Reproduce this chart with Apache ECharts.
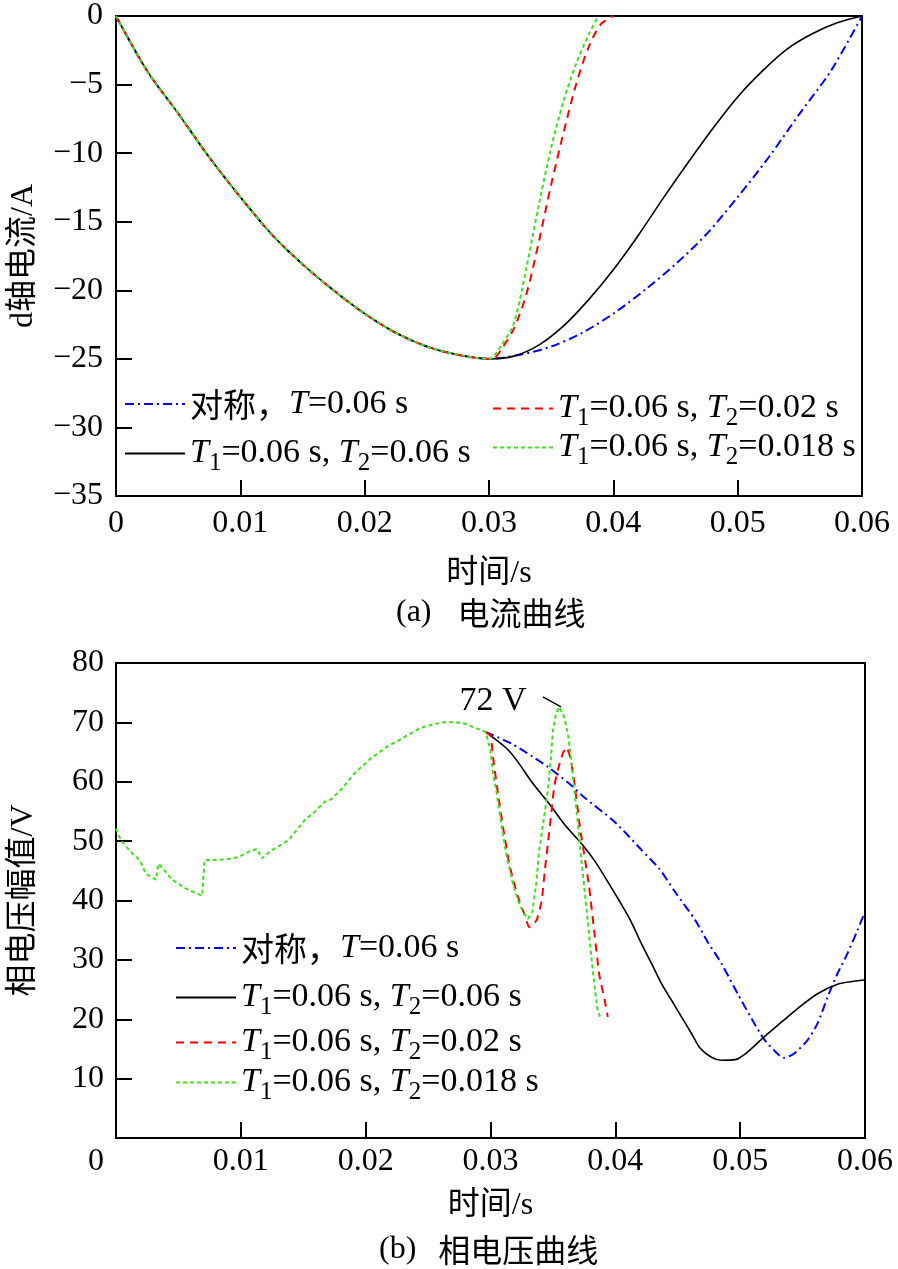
<!DOCTYPE html>
<html><head><meta charset="utf-8">
<script src="https://cdn.jsdelivr.net/npm/echarts@6/dist/echarts.min.js"></script>
<style>html,body{margin:0;padding:0;background:#fff}#c{width:898px;height:1269px}</style>
</head><body><div id="c"></div><script>
// ---------------- data ----------------
// (a) d-axis current, A
const curCommonT = [0,0.0025,0.005,0.0075,0.01,0.0125,0.015,0.0175,0.02,0.0225,0.025,0.0275,0.03];
const curCommonV = [0,-4.0,-7.1,-10.3,-13.2,-15.9,-18.1,-20.0,-21.7,-23.1,-24.1,-24.7,-25.0];
const curSymT = [0.0325,0.035,0.0375,0.04,0.0425,0.045,0.0475,0.05,0.0525,0.055,0.0575,0.06];
const curSymV = [-24.7,-24.1,-23.1,-21.7,-20.0,-18.1,-15.9,-13.2,-10.3,-7.1,-4.0,0];
const curA_T = [0.032,0.034,0.036,0.038,0.040,0.042,0.044,0.046,0.048,0.050,0.052,0.054,0.056,0.058,0.060];
const curA_V = [-24.8,-24.0,-22.6,-20.7,-18.5,-16.0,-13.3,-10.7,-8.2,-5.9,-4.0,-2.4,-1.3,-0.5,0];
const curB_T = [0.0305,0.031,0.032,0.033,0.034,0.035,0.036,0.037,0.038,0.039,0.040];
const curB_V = [-24.9,-24.3,-22.8,-20.3,-16.5,-12.3,-8.5,-5.0,-2.3,-0.6,0];
const curC_T = [0.031,0.032,0.033,0.034,0.035,0.036,0.037,0.038,0.0388];
const curC_V = [-24.0,-22.4,-18.4,-13.8,-9.6,-6.2,-3.5,-1.4,0];

// (b) phase voltage amplitude, V
const volCommonT = [0,0.0004,0.0013,0.0019,0.0024,0.0032,0.0034,0.0040,0.0045,0.0056,0.0069,0.0071,0.0088,0.0098,0.0106,0.0113,0.0117,0.0125,0.0138,0.0151,0.0159,0.0167,0.0172,0.0180,0.0191,0.0204,0.0217,0.0231,0.0244,0.0257,0.0265,0.0278,0.0296];
const volCommonV = [52.1,50.1,47.9,46.8,44.5,43.5,46.2,44.8,43.5,42.0,40.8,46.8,46.9,47.3,48.2,48.7,47.1,48.5,50.1,53.5,54.9,56.6,57.0,58.6,61.4,63.9,65.9,67.5,69.1,69.8,70.1,69.9,68.4];
const volSymT = [0.0296,0.0317,0.0334,0.0346,0.0363,0.0375,0.0398,0.0410,0.0421,0.0435,0.0448,0.0464,0.0474,0.0485,0.0498,0.0510,0.0519,0.0527,0.0535,0.0543,0.0554,0.0562,0.0570,0.0578,0.0586,0.0594,0.0600];
const volSymV = [68.4,66.4,64.2,62.5,59.7,57.4,53.5,51.0,48.5,45.4,41.4,36.7,33.0,29.4,24.3,19.8,16.7,14.8,13.5,14.2,16.5,19.3,23.7,27.7,31.1,35.0,38.1];
const volA_T = [0.0296,0.0313,0.0321,0.0334,0.0347,0.0359,0.0374,0.0384,0.0395,0.0403,0.0412,0.0421,0.0429,0.0437,0.0445,0.0453,0.0461,0.0468,0.0477,0.0485,0.0496,0.0506,0.0519,0.0533,0.0546,0.0562,0.0578,0.0591,0.0600];
const volA_V = [68.4,65.6,63.6,59.7,56.3,52.9,49.3,46.5,42.8,40.0,36.7,32.7,29.4,26.0,23.2,20.4,17.6,15.1,13.6,13.1,13.2,14.5,17.0,19.5,21.8,24.3,25.9,26.4,26.6];
const volB_T = [0.0296,0.0300,0.0302,0.0306,0.0310,0.0315,0.0319,0.0323,0.0327,0.0331,0.0337,0.0341,0.0344,0.0346,0.0349,0.0351,0.0354,0.0358,0.0361,0.0364,0.0367,0.0372,0.0375,0.0379,0.0383,0.0387,0.0391,0.0394];
const volB_V = [68.4,67.8,64.2,58.0,52.4,46.2,42.8,40.0,37.8,35.5,36.7,40.0,46.0,49.6,55.2,59.1,62.0,64.8,65.8,64.0,60.2,51.8,47.9,42.3,35.0,27.7,23.7,20.4];
const volC_T = [0.0300,0.0302,0.0305,0.0309,0.0313,0.0318,0.0322,0.0326,0.0330,0.03335,0.03366,0.0339,0.0343,0.0346,0.03485,0.0350,0.03525,0.0355,0.0359,0.0362,0.03644,0.0366,0.0368,0.0370,0.0372,0.0375,0.0378,0.0381,0.0384,0.03856,0.0388];
const volC_V = [65.3,61.4,58.0,52.4,47.3,42.8,40.0,38.1,36.9,38.1,42.8,48.4,54.1,58.6,64.2,68.7,71.5,72.6,70.9,68.1,64.2,60.8,56.9,52.9,48.5,42.5,36.5,30.0,24.5,21.8,20.2];

const xTicks = [0,0.01,0.02,0.03,0.04,0.05,0.06];
const annotText = '72 V';
const annotLabelAt = [0.0302, 73.6];
const annotLeader = [[0.0342, 74.3], [0.03565, 72.6]];

const legendText = {
  sym: '{cn|对称，}{it|T}=0.06 s',
  a: '{it|T}{sub|1}=0.06 s, {it|T}{sub|2}=0.06 s',
  b: '{it|T}{sub|1}=0.06 s, {it|T}{sub|2}=0.02 s',
  c: '{it|T}{sub|1}=0.06 s, {it|T}{sub|2}=0.018 s'
};

// ---------------- styling ----------------
const SERIF = '"Liberation Serif", "Times New Roman", "Noto Sans CJK SC", serif';
const CJK = '"Noto Sans CJK SC", sans-serif';
const FS = 32;
const LFS = 34;
const styles = {
  sym: {color: '#0000ff', type: [9, 4, 2, 4], width: 2},
  a:   {color: '#000000', type: 'solid', width: 1.6},
  b:   {color: '#ff0000', type: [8, 6], width: 2},
  c:   {color: '#40e020', type: [4, 3], width: 2}
};
const zip = (t, v) => t.map((x, i) => [x, v[i]]);
const minusFmt = v => (v < 0 ? '\u2212' + (-v) : String(v));
const xFmt = v => (Math.abs(v) < 1e-9 ? '0' : v.toFixed(2));

const richText = {
  it: {fontFamily: SERIF, fontStyle: 'italic', fontSize: LFS, lineHeight: 36, color: '#000'},
  sub: {fontFamily: SERIF, fontSize: 25, lineHeight: 16, padding: [20, 0, 0, 0], color: '#000'},
  cn: {fontFamily: CJK, fontSize: 33, lineHeight: 36, color: '#000'}
};

function legendItem(name, prefix, left, center) {
  return {
    data: [prefix + name], left: left, top: center - 18, padding: 0,
    itemWidth: 60, itemHeight: 20, selectedMode: false,
    itemStyle: {opacity: 0, borderWidth: 0},
    formatter: n => legendText[n.slice(prefix.length)],
    textStyle: {fontFamily: SERIF, fontSize: LFS, color: '#000', lineHeight: 36, rich: richText}
  };
}

function mkSeries(prefix, key, data, axisIdx, smooth) {
  const s = styles[key];
  return {
    name: prefix + key, type: 'line', xAxisIndex: axisIdx, yAxisIndex: axisIdx,
    data: data, symbol: 'none', smooth: smooth, animation: false,
    lineStyle: {color: s.color, type: s.type, width: s.width},
    itemStyle: {color: s.color}
  };
}

const axisCommon = {
  axisLine: {show: true, onZero: false, lineStyle: {color: '#000', width: 2}},
  axisTick: {show: true, inside: true, length: 16, lineStyle: {color: '#000', width: 2}},
  splitLine: {show: false}
};
const capRich = (gap) => ({
  p: {fontFamily: SERIF, fontSize: FS, fontWeight: 'normal', color: '#000'},
  c: {fontFamily: CJK, fontSize: 32, fontWeight: 'normal', color: '#000', padding: [0, 0, 0, gap]}
});

const curCommon = zip(curCommonT, curCommonV);
const option = {
  animation: false,
  backgroundColor: '#fff',
  title: [
    {text: '{p|(a)}{c|电流曲线}', left: 396, top: 597, padding: 0,
     textStyle: {fontWeight: 'normal', rich: capRich(26)}},
    {text: '{p|(b)}{c|相电压曲线}', left: 379, top: 1234, padding: 0,
     textStyle: {fontWeight: 'normal', rich: capRich(22)}}
  ],
  grid: [
    {left: 110, top: 10, width: 752, height: 486, show: true, borderColor: '#000', borderWidth: 2, containLabel: false},
    {left: 110, top: 663, width: 755, height: 475, show: true, borderColor: '#000', borderWidth: 2, containLabel: false}
  ],
  legend: [
    legendItem('sym', 'I_', 124, 404),
    legendItem('a', 'I_', 124, 449),
    legendItem('b', 'I_', 492, 404),
    legendItem('c', 'I_', 492, 443),
    legendItem('sym', 'U_', 175, 948),
    legendItem('a', 'U_', 175, 993),
    legendItem('b', 'U_', 175, 1038),
    legendItem('c', 'U_', 175, 1078)
  ],
  xAxis: [
    Object.assign({}, axisCommon, {
      gridIndex: 0, type: 'value', min: 0, max: 0.06, interval: 0.01,
      name: '时间/s', nameLocation: 'middle', nameGap: 62,
      nameTextStyle: {fontFamily: SERIF, fontSize: FS, color: '#000'},
      axisLabel: {fontFamily: SERIF, fontSize: FS, color: '#000', margin: 12, formatter: xFmt}
    }),
    Object.assign({}, axisCommon, {
      gridIndex: 1, type: 'value', min: 0, max: 0.06, interval: 0.01,
      name: '时间/s', nameLocation: 'middle', nameGap: 52,
      nameTextStyle: {fontFamily: SERIF, fontSize: FS, color: '#000'},
      axisLabel: {fontFamily: SERIF, fontSize: FS, color: '#000', margin: 8,
        formatter: v => (Math.abs(v) < 1e-9 ? '{z|0}' : v.toFixed(2)),
        rich: {z: {fontFamily: SERIF, fontSize: FS, color: '#000', padding: [0, 40, 0, 0]}}}
    })
  ],
  yAxis: [
    Object.assign({}, axisCommon, {
      gridIndex: 0, type: 'value', min: -35, max: 0, interval: 5,
      name: 'd轴电流/A', nameLocation: 'middle', nameGap: 76, nameRotate: 90,
      nameTextStyle: {fontFamily: SERIF, fontSize: FS, color: '#000'},
      axisLabel: {fontFamily: SERIF, fontSize: FS, color: '#000', margin: 13, padding: [8, 0, 0, 0], formatter: minusFmt}
    }),
    Object.assign({}, axisCommon, {
      gridIndex: 1, type: 'value', min: 0, max: 80, interval: 10,
      name: '相电压幅值/V', nameLocation: 'middle', nameGap: 76, nameRotate: 90,
      nameTextStyle: {fontFamily: SERIF, fontSize: FS, color: '#000'},
      axisLabel: {fontFamily: SERIF, fontSize: FS, color: '#000', margin: 12, padding: [8, 0, 0, 0],
        formatter: v => (v === 0 ? '' : String(v))}
    })
  ],
  series: [
    mkSeries('I_', 'sym', curCommon.concat(zip(curSymT, curSymV)), 0, 0.3),
    mkSeries('I_', 'a', curCommon.concat(zip(curA_T, curA_V)), 0, 0.3),
    mkSeries('I_', 'b', curCommon.concat(zip(curB_T, curB_V)), 0, 0.3),
    mkSeries('I_', 'c', curCommon.concat(zip(curC_T, curC_V)), 0, 0.3),
    mkSeries('U_', 'sym', zip(volSymT, volSymV), 1, 0.25),
    mkSeries('U_', 'a', zip(volA_T, volA_V), 1, 0.3),
    mkSeries('U_', 'b', zip(volB_T, volB_V), 1, 0.15),
    Object.assign(mkSeries('U_', 'c', zip(volCommonT, volCommonV).concat(zip(volC_T, volC_V)), 1, false), {
      markLine: {
        silent: true, symbol: ['none', 'none'], animation: false,
        lineStyle: {color: '#000', type: 'solid', width: 1.5},
        label: {show: false},
        data: [[{coord: annotLeader[0]}, {coord: annotLeader[1]}]]
      },
      markPoint: {
        silent: true, symbol: 'circle', symbolSize: 0, animation: false,
        label: {show: true, position: 'inside', formatter: annotText, fontFamily: SERIF, fontSize: LFS, color: '#000'},
        data: [{coord: annotLabelAt}]
      }
    })
  ]
};
const chart = echarts.init(document.getElementById('c'), null, {renderer: 'canvas'});
chart.setOption(option);
</script></body></html>
